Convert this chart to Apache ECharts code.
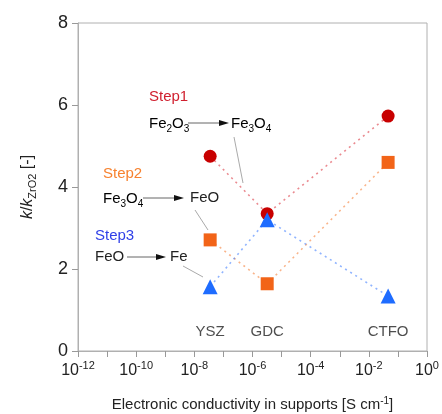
<!DOCTYPE html>
<html><head><meta charset="utf-8">
<script src="https://cdn.jsdelivr.net/npm/echarts@6/dist/echarts.min.js"></script>
<style>html,body{margin:0;padding:0;background:#fff}#c{width:442px;height:414px}</style>
</head><body><div id="c"></div>
<script>
const materials = ['YSZ', 'GDC', 'CTFO'];
const conductivity = [3.5e-8, 3.2e-6, 4.6e-2];
const step1 = [4.75, 3.35, 5.73];
const step2 = [2.71, 1.64, 4.6];
const step3 = [1.57, 3.2, 1.34];
const labelLevel = 0.46;
const yTicks = [0, 2, 4, 6, 8];

const FONT = '"Liberation Sans", Arial, sans-serif';
const chart = echarts.init(document.getElementById('c'), null, {renderer: 'canvas'});

function pts(vals) { return conductivity.map((x, i) => [x, vals[i]]); }

function mkSeries(vals, symbol, size, color, lineColor) {
  return {
    type: 'line', data: pts(vals), symbol: symbol, symbolSize: size,
    itemStyle: {color: color, opacity: 1},
    lineStyle: {color: lineColor, width: 1.6, type: [2, 4]},
    z: 3
  };
}

const sub = {fontSize: 10, fontFamily: FONT, color: '#222', padding: [10, 0, 0, 0]};
const norm = {fontSize: 15, fontFamily: FONT, color: '#222'};

function txt(x, y, text, color, rich) {
  return {type: 'text', x: x, y: y, style: {text: text, fill: color, font: '15px ' + FONT, verticalAlign: 'middle', rich: rich}};
}
function arrow(x1, x2, y) {
  return [
    {type: 'line', shape: {x1: x1, y1: y, x2: x2 - 6, y2: y}, style: {stroke: '#666', lineWidth: 1}},
    {type: 'polygon', shape: {points: [[x2 - 10, y - 3], [x2, y], [x2 - 10, y + 3]]}, style: {fill: '#111'}}
  ];
}
function lead(x1, y1, x2, y2) {
  return {type: 'line', shape: {x1: x1, y1: y1, x2: x2, y2: y2}, style: {stroke: '#aaa', lineWidth: 1}};
}
const richF = {n: norm, s: sub};

chart.setOption({
  animation: false,
  backgroundColor: '#fff',
  grid: {left: 78, right: 15, top: 23, bottom: 63, show: true, borderColor: '#b0b0b0', borderWidth: 1,
    containLabel: false, outerBoundsMode: 'none'},
  xAxis: {
    type: 'log', logBase: 10, min: 1e-12, max: 1, interval: 1, splitNumber: 12,
    name: 'Electronic conductivity in supports [S cm{sup|-1}]',
    nameLocation: 'middle', nameGap: 45,
    nameTextStyle: {fontSize: 15, fontFamily: FONT, color: '#222',
      rich: {sup: {fontSize: 10, fontFamily: FONT, color: '#222', padding: [0, 0, 8, 0]}}},
    axisLine: {lineStyle: {color: '#b0b0b0'}},
    axisTick: {inside: false, length: 6, lineStyle: {color: '#999'}},
    splitLine: {show: false},
    minorTick: {show: false},
    axisLabel: {
      margin: 9, fontSize: 16, fontFamily: FONT, color: '#222', showMinLabel: true, showMaxLabel: true,
      formatter: function (v) {
        const e = Math.round(Math.log10(v));
        if (e % 2 !== 0) return '';
        return '10{sup|' + e + '}';
      },
      rich: {sup: {fontSize: 11, fontFamily: FONT, color: '#222', padding: [0, 0, 10, 0]}}
    }
  },
  yAxis: {
    type: 'value', min: yTicks[0], max: yTicks[yTicks.length - 1], interval: 2,
    name: '{i|k}{n|/}{i|k}{s|ZrO2}{n| [-]}',
    nameLocation: 'middle', nameGap: 40, nameRotate: 90,
    nameTextStyle: {
      rich: {
        i: {fontSize: 16, fontStyle: 'italic', fontFamily: FONT, color: '#222'},
        n: {fontSize: 16, fontFamily: FONT, color: '#222'},
        s: {fontSize: 11, fontFamily: FONT, color: '#222', padding: [10, 0, 0, 0]}
      }
    },
    axisLine: {show: true, lineStyle: {color: '#b0b0b0'}},
    axisTick: {show: true, inside: false, length: 6, lineStyle: {color: '#999'}},
    splitLine: {show: false},
    axisLabel: {margin: 10, fontSize: 18, fontFamily: FONT, color: '#222'}
  },
  series: [
    mkSeries(step1, 'circle', 13, '#c80000', 'rgba(220,60,70,0.6)'),
    mkSeries(step2, 'rect', 13, '#f26418', 'rgba(245,130,60,0.6)'),
    mkSeries(step3, 'triangle', 15, '#1e6cff', 'rgba(70,130,255,0.6)'),
    {
      type: 'scatter', symbolSize: 0,
      data: conductivity.map((x, i) => ({value: [x, labelLevel], name: materials[i]})),
      label: {show: true, position: 'inside', formatter: '{b}', fontSize: 15, fontFamily: FONT, color: '#222'},
      silent: true, z: 2
    }
  ],
  graphic: [
    txt(149, 97, 'Step1', '#d01f2e'),
    {type: 'text', x: 149, y: 124, style: {text: '{n|Fe}{s|2}{n|O}{s|3}', verticalAlign: 'middle', rich: richF}},
    ...arrow(188, 229, 123),
    {type: 'text', x: 231, y: 124, style: {text: '{n|Fe}{s|3}{n|O}{s|4}', verticalAlign: 'middle', rich: richF}},
    lead(234, 137, 243, 183),
    txt(103, 174, 'Step2', '#f7822f'),
    {type: 'text', x: 103, y: 199, style: {text: '{n|Fe}{s|3}{n|O}{s|4}', verticalAlign: 'middle', rich: richF}},
    ...arrow(143, 184, 198),
    txt(190, 198, 'FeO', '#222'),
    lead(195, 210, 208, 230),
    txt(95, 236, 'Step3', '#2f3fe8'),
    txt(95, 257, 'FeO', '#222'),
    ...arrow(127, 166, 257),
    txt(170, 257, 'Fe', '#222'),
    lead(183, 266, 203, 277)
  ]
});
</script></body></html>
